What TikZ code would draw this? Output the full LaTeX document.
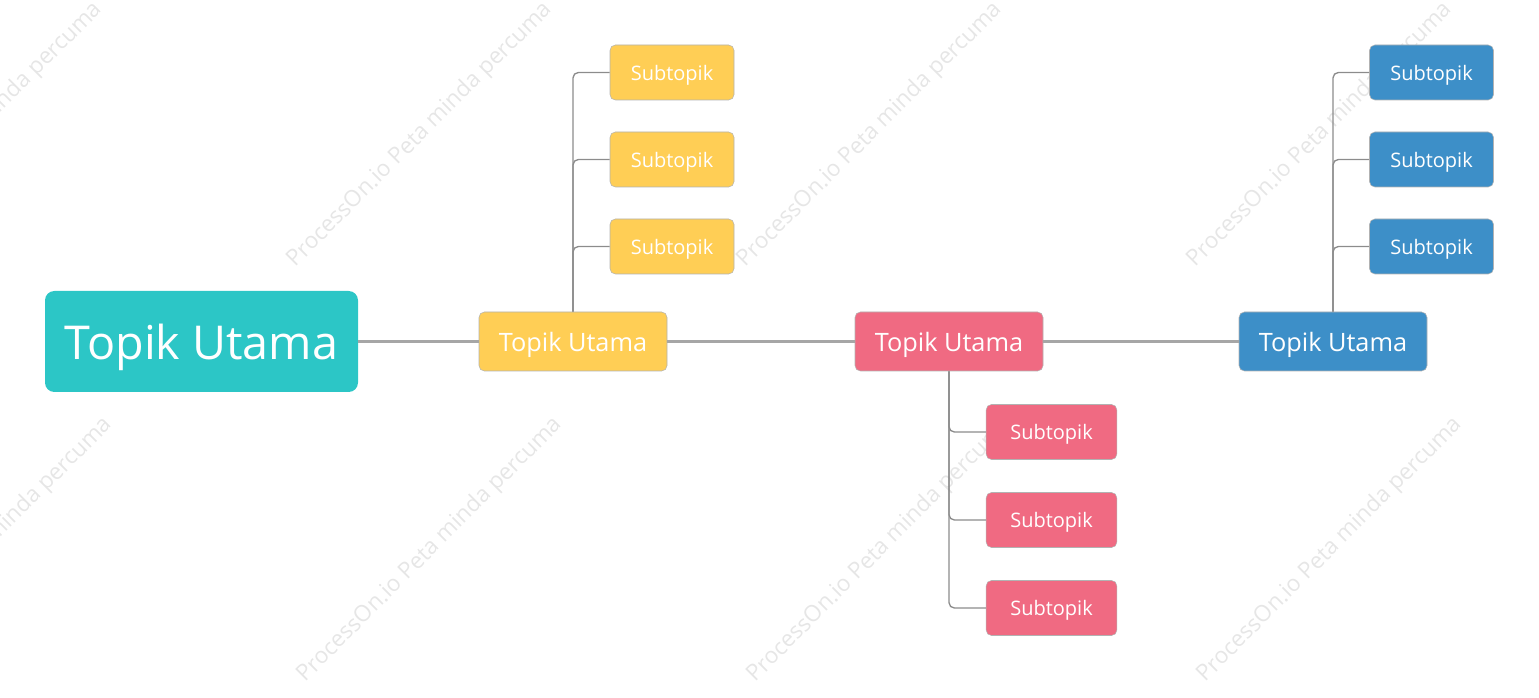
\documentclass[tikz,border=0pt]{standalone}
\usepackage{fontspec}
\setmainfont{Open Sans}
\definecolor{teal1}{HTML}{2CC6C6}
\definecolor{yel}{HTML}{FFCE55}
\definecolor{pnk}{HTML}{F06A82}
\definecolor{blu}{HTML}{3D8FC8}
\definecolor{wm}{HTML}{E6E6E6}
\begin{document}
\begin{tikzpicture}[x=0.75pt,y=-0.75pt,
  topic/.style={draw=black!30,rounded corners=4pt,text=white,font=\fontsize{19}{20}\selectfont,minimum height=44.25pt,inner sep=0pt,text depth=-2pt},
  sub/.style={draw=black!30,rounded corners=4pt,text=white,font=\fontsize{15}{16}\selectfont,minimum height=41.25pt,inner sep=0pt,text depth=-2pt},
  link/.style={draw=black!45,line width=1pt,rounded corners=4pt},
  wmk/.style={text=wm,rotate=45,font=\fontsize{17}{18}\selectfont}]
\useasboundingbox (0,0) rectangle (1539,698);
\foreach \x in {-30,420,870,1320}{
  \node[wmk] at (\x,135) {ProcessOn.io Peta minda percuma};
  \node[wmk] at (\x+10,550) {ProcessOn.io Peta minda percuma};}
\node[fill=teal1,rounded corners=7pt,text=white,font=\fontsize{35}{36}\selectfont,minimum width=234.75pt,minimum height=75.75pt,inner sep=0pt,text depth=-3pt] (m) at (201.5,341.5) {Topik Utama};
\node[topic,fill=yel,minimum width=141pt] (y) at (573,341.5) {Topik Utama};
\node[topic,fill=pnk,minimum width=141pt] (p) at (949,341.5) {Topik Utama};
\node[topic,fill=blu,minimum width=141pt] (b) at (1333,341.5) {Topik Utama};
\foreach \i/\yy in {1/72.5,2/159.5,3/246.5}{
  \node[sub,fill=yel,minimum width=93pt] (y\i) at (672,\yy) {Subtopik};
  \node[sub,fill=blu,minimum width=93pt] (b\i) at (1431.5,\yy) {Subtopik};}
\foreach \i/\yy in {1/432,2/520,3/608}{
  \node[sub,fill=pnk,minimum width=98pt] (p\i) at (1051.5,\yy) {Subtopik};}
\draw[link,line width=1.7pt,draw=black!35] (m.east) -- (y.west) (y.east) -- (p.west) (p.east) -- (b.west);
\foreach \i in {1,2,3}{
  \draw[link] (y.north) |- (y\i.west);
  \draw[link] (b.north) |- (b\i.west);
  \draw[link] (p.south) |- (p\i.west);}
\end{tikzpicture}
\end{document}
